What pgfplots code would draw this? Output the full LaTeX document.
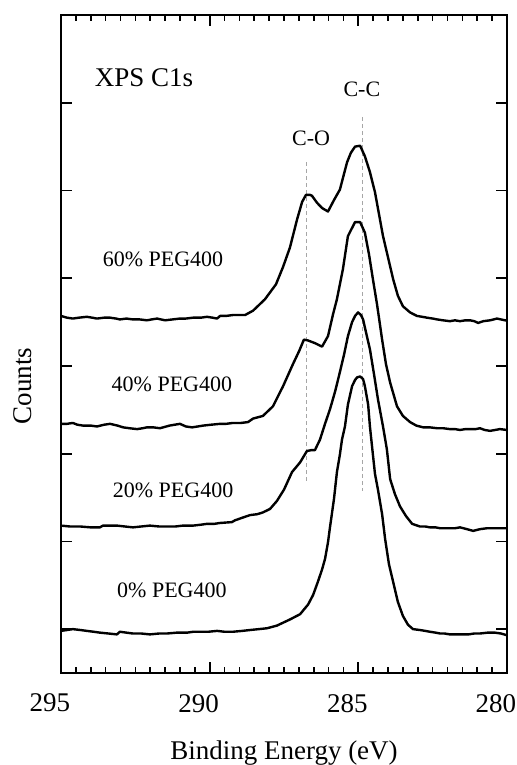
\documentclass[border=0pt]{standalone}
\usepackage{fontspec}
\setmainfont{Liberation Serif}
\usepackage{pgfplots}
\pgfplotsset{compat=1.18}
\begin{document}
\begin{tikzpicture}
\begin{axis}[
  scale only axis, width=223pt, height=329pt,
  x dir=reverse, xmin=280, xmax=295, ymin=0.5, ymax=8,
  xtick={280,285,290,295}, minor x tick num=9,
  ytick={1,2,3,4,5,6,7}, yticklabels={},
  tick align=inside, tick pos=both,
  major tick length=5.5pt, minor tick length=3pt,
  axis line style={line width=1pt},
  every tick/.style={black, line width=0.9pt},
  every minor tick/.style={black, line width=0.8pt},
  /pgf/number format/assume math mode=true,
  xticklabel style={font=\fontsize{13.5}{16}\selectfont, yshift=-7pt, xshift=-5.5pt},
  xlabel={Binding Energy (eV)},
  xlabel style={font=\fontsize{13.5}{16}\selectfont, at={(axis description cs:0.5,-0.1322)}, anchor=base},
  ylabel={Counts},
  ylabel style={font=\fontsize{13.5}{16}\selectfont, at={(axis description cs:-0.086,0.436)}, anchor=center},
  clip=false,
]
% dashed guide lines
\addplot[gray!70, line width=0.4pt, dash pattern=on 2pt off 1.5pt] coordinates {(286.73,6.32) (286.73,2.69)};
\addplot[gray!70, line width=0.4pt, dash pattern=on 2pt off 1.5pt] coordinates {(284.87,6.84) (284.87,2.57)};

% 60% PEG400
\addplot[black, line width=1.2pt, line join=round] coordinates {
(295.00,4.57) (294.80,4.55) (294.60,4.54) (294.40,4.55) (294.13,4.56) (293.95,4.55) (293.79,4.54) (293.55,4.55) (293.35,4.55) (293.15,4.54) (293.02,4.53)
(292.80,4.54) (292.58,4.53) (292.35,4.53) (292.11,4.52) (291.95,4.53) (291.77,4.54) (291.50,4.52) (291.25,4.53) (291.00,4.54) (290.80,4.54) (290.56,4.55)
(290.30,4.55) (290.09,4.56) (289.90,4.55) (289.75,4.54) (289.65,4.57) (289.45,4.57) (289.22,4.58) (289.00,4.58) (288.81,4.58) (288.54,4.63)
(288.14,4.76) (287.77,4.93) (287.53,5.13) (287.30,5.35) (287.06,5.67) (286.89,5.87)
(286.76,5.95) (286.63,5.95) (286.56,5.94) (286.39,5.86) (286.22,5.80) (286.02,5.76)
(285.82,5.89) (285.62,6.01) (285.38,6.32) (285.25,6.43) (285.11,6.50) (284.94,6.51)
(284.78,6.39) (284.61,6.21) (284.44,5.98) (284.17,5.48) (283.83,4.99) (283.67,4.80)
(283.50,4.68) (283.26,4.61) (283.03,4.57) (282.85,4.56) (282.69,4.55) (282.50,4.54) (282.35,4.53) (282.15,4.52) (281.92,4.51)
(281.75,4.52) (281.58,4.51) (281.40,4.52) (281.24,4.52) (281.10,4.51) (280.97,4.49) (280.80,4.51) (280.57,4.52) (280.45,4.53) (280.34,4.54) (280.20,4.53) (280.07,4.52)
(280.00,4.52)};

% 40% PEG400
\addplot[black, line width=1.2pt, line join=round] coordinates {
(295.00,3.34) (294.80,3.34) (294.60,3.35) (294.45,3.33) (294.26,3.32) (294.00,3.32) (293.79,3.31) (293.55,3.33) (293.35,3.34) (293.10,3.32) (292.91,3.30)
(292.70,3.29) (292.44,3.28) (292.25,3.29) (292.11,3.30) (291.90,3.30) (291.67,3.29) (291.35,3.32) (291.00,3.34) (290.80,3.31) (290.59,3.30) (290.40,3.31) (290.22,3.32)
(289.95,3.33) (289.65,3.34) (289.45,3.34) (289.22,3.35) (288.95,3.35) (288.71,3.36) (288.54,3.40) (288.21,3.43) (287.87,3.54)
(287.53,3.77) (287.20,4.02) (286.99,4.17) (286.83,4.30) (286.69,4.29) (286.46,4.26)
(286.22,4.22) (286.02,4.34) (285.85,4.59) (285.72,4.76) (285.52,5.10) (285.35,5.48)
(285.11,5.64) (284.94,5.64) (284.78,5.52) (284.64,5.27) (284.51,4.99) (284.37,4.70)
(284.20,4.30) (284.07,4.02) (283.93,3.81) (283.70,3.54) (283.50,3.43) (283.26,3.36)
(283.05,3.32) (282.82,3.30) (282.60,3.30) (282.35,3.29) (282.15,3.29) (281.92,3.28) (281.75,3.28) (281.58,3.27) (281.40,3.28) (281.24,3.28) (281.05,3.28) (280.91,3.29)
(280.75,3.27) (280.57,3.26) (280.40,3.27) (280.24,3.28) (280.00,3.27)};

% 20% PEG400
\addplot[black, line width=1.2pt, line join=round] coordinates {
(295.00,2.18) (294.70,2.17) (294.36,2.17) (294.00,2.16) (293.69,2.16) (293.59,2.18) (293.35,2.18) (293.12,2.18) (292.85,2.17) (292.58,2.16)
(292.30,2.17) (292.01,2.18) (291.70,2.17) (291.44,2.17) (291.15,2.17) (290.90,2.18) (290.56,2.18) (290.30,2.19) (290.09,2.20) (289.85,2.20) (289.65,2.21)
(289.25,2.22) (289.15,2.24) (288.90,2.27) (288.64,2.30) (288.40,2.31) (288.21,2.33) (287.97,2.37) (287.74,2.46)
(287.50,2.59) (287.23,2.79) (286.96,2.90) (286.73,3.03) (286.59,3.04) (286.46,3.04)
(286.29,3.16) (286.12,3.34) (285.95,3.51) (285.78,3.71) (285.62,3.93) (285.48,4.13)
(285.35,4.34) (285.21,4.50) (285.11,4.57) (285.01,4.61) (284.91,4.58) (284.84,4.53)
(284.74,4.38) (284.61,4.19) (284.47,3.90) (284.34,3.62) (284.17,3.31) (284.04,3.05)
(283.93,2.71) (283.77,2.54) (283.60,2.40) (283.40,2.29) (283.19,2.20) (282.93,2.17)
(282.75,2.17) (282.59,2.16) (282.40,2.16) (282.25,2.15) (282.05,2.15) (281.92,2.15) (281.75,2.15) (281.58,2.16) (281.35,2.14) (281.14,2.12) (280.90,2.14) (280.67,2.15)
(280.40,2.15) (280.07,2.15) (280.00,2.15)};

% 0% PEG400
\addplot[black, line width=1.2pt, line join=round] coordinates {
(295.00,0.98) (294.80,0.99) (294.60,1.00) (294.35,0.99) (294.13,0.98) (293.90,0.97) (293.69,0.96) (293.40,0.95) (293.12,0.94) (293.02,0.97)
(292.80,0.96) (292.58,0.95) (292.30,0.95) (292.01,0.94) (291.70,0.95) (291.44,0.95) (291.10,0.96) (290.76,0.96) (290.55,0.97) (290.32,0.97) (290.05,0.97) (289.75,0.98)
(289.50,0.97) (289.22,0.97) (288.90,0.98) (288.64,0.99) (288.35,1.00) (288.07,1.01) (287.74,1.04) (287.30,1.11) (286.96,1.17)
(286.69,1.28) (286.52,1.39) (286.36,1.54) (286.22,1.68) (286.12,1.80) (286.02,1.99)
(285.95,2.17) (285.82,2.48) (285.72,2.79) (285.62,2.99) (285.55,3.16) (285.45,3.31)
(285.35,3.56) (285.21,3.77) (285.11,3.84) (285.04,3.87) (284.94,3.88) (284.84,3.85)
(284.78,3.77) (284.67,3.56) (284.61,3.31) (284.51,2.99) (284.44,2.77) (284.34,2.59)
(284.20,2.31) (284.10,2.03) (283.97,1.74) (283.83,1.54) (283.67,1.31) (283.50,1.15)
(283.33,1.05) (283.16,1.00) (282.93,0.99) (282.75,0.98) (282.59,0.97) (282.40,0.96) (282.25,0.95) (282.10,0.95) (281.92,0.94)
(281.60,0.94) (281.30,0.94) (281.10,0.95) (280.91,0.95) (280.65,0.96) (280.41,0.96) (280.20,0.95) (280.00,0.93)};

\node[font=\fontsize{13.5}{16}\selectfont, inner sep=0pt] at (axis cs:292.21,7.29) {XPS C1s};
\node[font=\fontsize{11}{13}\selectfont, inner sep=0pt] at (axis cs:284.88,7.15) {C-C};
\node[font=\fontsize{11}{13}\selectfont, inner sep=0pt] at (axis cs:286.59,6.60) {C-O};
\node[font=\fontsize{11}{13}\selectfont, inner sep=0pt] at (axis cs:291.57,5.21) {60\% PEG400};
\node[font=\fontsize{11}{13}\selectfont, inner sep=0pt] at (axis cs:291.27,3.79) {40\% PEG400};
\node[font=\fontsize{11}{13}\selectfont, inner sep=0pt] at (axis cs:291.23,2.58) {20\% PEG400};
\node[font=\fontsize{11}{13}\selectfont, inner sep=0pt] at (axis cs:291.27,1.44) {0\% PEG400};
\end{axis}
\pgfresetboundingbox
\path[use as bounding box] ([xshift=-30.5pt,yshift=-46pt]current axis.south west) rectangle ([xshift=4.5pt,yshift=7.5pt]current axis.north east);
\end{tikzpicture}
\end{document}
